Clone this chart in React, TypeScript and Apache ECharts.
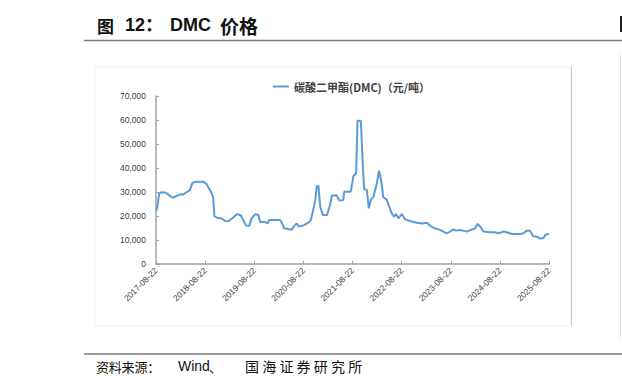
import React, { useEffect, useRef } from "react";
import * as echarts from "echarts";

const seriesName = "碳酸二甲酯(DMC)（元/吨）";
const startDate = "2017-08-22";
const xTickLabels = [
  "2017-08-22", "2018-08-22", "2019-08-22", "2020-08-22", "2021-08-22",
  "2022-08-22", "2023-08-22", "2024-08-22", "2025-08-22",
];
const dates = [
  "2017-08-22", "2017-09-01", "2017-09-15", "2017-10-03", "2017-11-05", "2017-12-05", "2017-12-25",
  "2018-01-19", "2018-02-18", "2018-03-12", "2018-04-07", "2018-05-01", "2018-05-21", "2018-06-20",
  "2018-08-08", "2018-09-03", "2018-09-23", "2018-10-05", "2018-10-22", "2018-10-30", "2018-11-17",
  "2018-12-24", "2019-01-18", "2019-02-11", "2019-03-19", "2019-04-18", "2019-05-13", "2019-06-01",
  "2019-06-22", "2019-07-16", "2019-08-03", "2019-08-28", "2019-09-22", "2019-10-05", "2019-11-11",
  "2019-11-28", "2019-12-13", "2020-03-01", "2020-03-14", "2020-03-31", "2020-05-27", "2020-06-14",
  "2020-07-03", "2020-07-18", "2020-08-22", "2020-09-28", "2020-10-16", "2020-10-31", "2020-11-18",
  "2020-11-30", "2020-12-12", "2020-12-25", "2021-01-14", "2021-02-13", "2021-03-08", "2021-03-22",
  "2021-04-27", "2021-05-16", "2021-06-15", "2021-06-21", "2021-08-09", "2021-08-29", "2021-09-18",
  "2021-09-28", "2021-10-23", "2021-11-07", "2021-11-17", "2021-12-07", "2021-12-21", "2022-01-05",
  "2022-01-25", "2022-02-19", "2022-03-07", "2022-03-22", "2022-04-08", "2022-05-03", "2022-05-22",
  "2022-06-10", "2022-06-27", "2022-07-12", "2022-07-29", "2022-08-23", "2022-09-17", "2022-10-24",
  "2022-12-13", "2023-01-20", "2023-02-26", "2023-03-21", "2023-04-15", "2023-06-03", "2023-07-23",
  "2023-08-17", "2023-09-11", "2023-10-01", "2023-10-31", "2023-12-20", "2024-01-27", "2024-02-20",
  "2024-03-08", "2024-03-28", "2024-04-22", "2024-06-10", "2024-07-17", "2024-08-11", "2024-09-18",
  "2024-10-13", "2024-11-20", "2025-01-21", "2025-02-14", "2025-03-10", "2025-04-03", "2025-04-24",
  "2025-05-23", "2025-06-12", "2025-07-12", "2025-07-24", "2025-08-08", "2025-08-22",
];
const prices = [
  22000, 23900, 29400, 29900, 29700, 28300, 27600,
  28300, 29000, 29000, 29900, 30800, 33900, 34300,
  34300, 33300, 31100, 30100, 27400, 19900, 19300,
  19000, 17900, 17800, 19400, 20800, 20300, 18300,
  16000, 15900, 19000, 20700, 20400, 17500, 17500,
  16900, 18300, 18300, 17200, 14900, 14300, 15800,
  16900, 15600, 16100, 17200, 18300, 21800, 26700,
  32500, 32500, 23900, 20400, 20400, 24600, 28500,
  28500, 26400, 26700, 30100, 30100, 36700, 37800,
  59700, 59700, 40500, 31100, 30800, 23200, 26700,
  28000, 33600, 38900, 35000, 27800, 26800, 23900,
  21100, 19700, 20800, 19000, 20800, 18600, 17900,
  17200, 16900, 17200, 16000, 15100, 14200, 12800,
  13500, 14400, 13900, 14200, 13500, 14400, 14900,
  16700, 15600, 13500, 13200, 13200, 12800, 13500,
  13200, 12500, 12500, 12800, 13900, 13900, 11700,
  11400, 10600, 10700, 12100, 12400, 12500,
];
const sourceLead = "资料来源：";
const sourceWind = "Wind";
const sourceSep = "、";
const sourceTail = "国海证券研究所";

const YEAR_MS = 365.25 * 86400000;
const toYears = (d: string) => (Date.parse(d) - Date.parse(startDate)) / YEAR_MS;

export default function App() {
  const ref = useRef<HTMLDivElement>(null);
  useEffect(() => {
    if (!ref.current) return;
    const chart = echarts.init(ref.current, undefined, { renderer: "svg" });
    const latin = "'Liberation Sans', Arial, 'Noto Sans CJK SC', sans-serif";
    const cjk = "'Noto Sans CJK SC', 'Liberation Sans', sans-serif";
    const data = dates.map((d, i) => [toYears(d), prices[i]]);
    const tailChars = Array.from(sourceTail).map((ch, i) => ({
      type: "text",
      x: 245 + i * 17.2,
      y: 366,
      style: { text: ch, font: `14px ${cjk}`, fill: "#111", verticalAlign: "middle" },
    }));
    const leadChars = Array.from(sourceLead).map((ch, i) => ({
      type: "text",
      x: 96 + i * 12.8,
      y: 366,
      style: { text: ch, font: `13px ${cjk}`, fill: "#111", verticalAlign: "middle" },
    }));
    chart.setOption({
      animation: false,
      backgroundColor: "#ffffff",
      grid: { left: 156, top: 96, right: 73, bottom: 126, containLabel: false },
      legend: {
        left: 268,
        top: 76,
        icon: "rect",
        itemWidth: 16,
        itemHeight: 2,
        itemGap: 10,
        textStyle: { fontFamily: cjk, fontSize: 11, fontWeight: "bold", color: "#404040" },
        data: [seriesName],
      },
      xAxis: {
        type: "value",
        min: 0,
        max: xTickLabels.length - 1,
        interval: 1,
        splitLine: { show: false },
        axisLine: { lineStyle: { color: "#a0a0a0", width: 1.5 } },
        axisTick: { show: true, inside: true, length: 3, lineStyle: { color: "#a0a0a0" } },
        axisLabel: {
          rotate: 45,
          fontSize: 8.5,
          color: "#404040",
          fontFamily: latin,
          margin: 5,
          formatter: (v: number) => xTickLabels[Math.round(v)] ?? "",
        },
      },
      yAxis: {
        type: "value",
        min: 0,
        max: 70000,
        interval: 10000,
        splitLine: { show: false },
        axisLine: { show: true, lineStyle: { color: "#a0a0a0", width: 1.5 } },
        axisTick: { show: true, inside: true, length: 3, lineStyle: { color: "#a0a0a0" } },
        axisLabel: {
          fontSize: 8.5,
          color: "#404040",
          fontFamily: latin,
          margin: 10,
          formatter: (v: number) => v.toLocaleString("en-US"),
        },
      },
      series: [
        {
          name: seriesName,
          type: "line",
          data,
          showSymbol: false,
          symbol: "none",
          lineStyle: { color: "#5B9BD5", width: 2 },
          itemStyle: { color: "#5B9BD5" },
        },
      ],
      graphic: [
        { type: "rect", shape: { x: 95, y: 67, width: 476, height: 259 }, style: { fill: "none", stroke: "#f0f0f0", lineWidth: 1 }, z: -1 },
        { type: "line", shape: { x1: 571.5, y1: 67, x2: 571.5, y2: 326 }, style: { stroke: "#c8c8c8", lineWidth: 1 } },
        { type: "line", shape: { x1: 84, y1: 40.5, x2: 622, y2: 40.5 }, style: { stroke: "#7a7a7a", lineWidth: 1.5 } },
        { type: "line", shape: { x1: 84, y1: 354, x2: 622, y2: 354 }, style: { stroke: "#7a7a7a", lineWidth: 1.5 } },
        { type: "text", x: 97, y: 25, style: { text: "图", font: `bold 17px ${cjk}`, fill: "#111", verticalAlign: "middle" } },
        { type: "text", x: 125, y: 25, style: { text: "12：", font: `bold 18px ${latin}`, fill: "#111", verticalAlign: "middle" } },
        { type: "text", x: 170, y: 25, style: { text: "DMC", font: `bold 18px ${latin}`, fill: "#111", verticalAlign: "middle" } },
        { type: "text", x: 220, y: 25, style: { text: "价格", font: `bold 19px ${cjk}`, fill: "#111", verticalAlign: "middle" } },
        ...leadChars,
        { type: "text", x: 178, y: 366, style: { text: sourceWind, font: `14px ${latin}`, fill: "#111", verticalAlign: "middle" } },
        { type: "text", x: 209, y: 366, style: { text: sourceSep, font: `13px ${cjk}`, fill: "#111", verticalAlign: "middle" } },
        ...tailChars,
        { type: "rect", shape: { x: 620, y: 16, width: 2, height: 16 }, style: { fill: "#222" } },
        { type: "line", shape: { x1: 620.5, y1: 53, x2: 620.5, y2: 339 }, style: { stroke: "#e4e4e4", lineWidth: 1 } },
      ],
    });
    return () => chart.dispose();
  }, []);
  return <div ref={ref} style={{ width: 622, height: 390, position: "absolute", left: 0, top: 0 }} />;
}
